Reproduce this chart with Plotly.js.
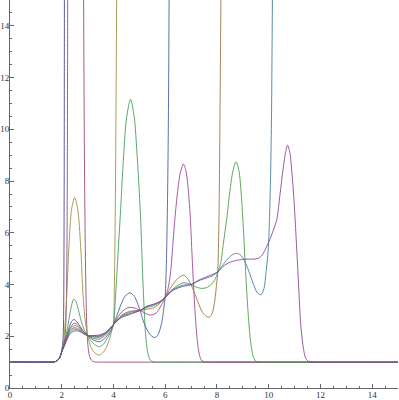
<!DOCTYPE html>
<html>
<head>
<meta charset="utf-8">
<script src="https://cdn.plot.ly/plotly-3.0.1.min.js"></script>
<style>html,body{margin:0;padding:0;background:#fff}#chart{width:399px;height:400px}</style>
</head>
<body>
<div id="chart"></div>
<script>
// Curve 1 (blue-violet) - diverges near x=2.1
const x1 = [0, 1.5, 1.7, 1.8, 1.9, 1.97, 2.0, 2.04, 2.06, 2.075, 2.085, 2.095, 2.1, 2.105, 2.12];
const y1 = [1, 1, 1.01, 1.04, 1.13, 1.3, 1.45, 1.75, 2.1, 3, 4.8, 8, 12, 17, 40];
// Curve 2 (pink) - huge peak 2.2..2.85, then back to 1
const x2 = [0, 1.5, 1.7, 1.8, 1.9, 2.0, 2.1, 2.15, 2.18, 2.2, 2.215, 2.225, 2.235, 2.26, 2.5, 2.8, 2.84, 2.86, 2.88, 2.91, 2.94, 2.97, 3.0, 3.05, 3.12, 3.2, 3.3, 3.5, 3.8, 15];
const y2 = [1, 1, 1.01, 1.04, 1.13, 1.4, 1.78, 2.3, 3.3, 5, 8, 12, 17, 40, 80, 40, 17, 12, 8.5, 5.5, 3.5, 2.4, 1.8, 1.35, 1.12, 1.03, 1.005, 1, 1, 1];
// Curve 3 (olive)
const x3 = [0, 1.5, 1.7, 1.8, 1.9, 2.0, 2.1, 2.19, 2.28, 2.38, 2.5, 2.62, 2.73, 2.83, 2.92, 3.02, 3.12, 3.25, 3.45, 3.6, 3.74, 3.85, 3.93, 4.0, 4.03, 4.06, 4.09, 4.12, 4.15];
const y3 = [1, 1, 1.01, 1.04, 1.13, 1.4, 2.1, 3.5, 5.5, 6.9, 7.37, 6.9, 5.5, 3.5, 2.5, 1.95, 1.6, 1.38, 1.27, 1.38, 1.6, 1.9, 2.2, 2.5, 3.6, 5.8, 9.5, 14.5, 25];
// Curve 4 (green)
const x4 = [0, 1.5, 1.7, 1.8, 1.9, 2.0, 2.1, 2.2, 2.3, 2.4, 2.47, 2.55, 2.65, 2.75, 2.87, 3.02, 3.15, 3.3, 3.45, 3.6, 3.75, 3.88, 4.0, 4.06, 4.12, 4.2, 4.27, 4.37, 4.5, 4.66, 4.8, 4.92, 5.04, 5.14, 5.24, 5.32, 5.42, 5.55, 5.8, 6.1, 15];
const y4 = [1, 1, 1.01, 1.04, 1.13, 1.4, 1.75, 2.2, 2.78, 3.28, 3.44, 3.35, 3.0, 2.6, 2.25, 2.0, 1.8, 1.66, 1.6, 1.68, 1.9, 2.15, 2.45, 3.2, 4.2, 5.6, 6.77, 8.6, 10.4, 11.16, 10.5, 8.9, 6.77, 4.1, 2.1, 1.4, 1.08, 1.005, 1.0, 1.0, 1.0];
// Curve 5 (blue)
const x5 = [0, 1.5, 1.7, 1.8, 1.9, 2.0, 2.1, 2.2, 2.3, 2.4, 2.47, 2.55, 2.7, 2.85, 3.02, 3.2, 3.45, 3.65, 3.85, 4.0, 4.15, 4.3, 4.45, 4.64, 4.8, 4.92, 5.03, 5.15, 5.3, 5.45, 5.6, 5.72, 5.86, 5.95, 6.0, 6.05, 6.09, 6.12, 6.15, 6.18];
const y5 = [1, 1, 1.01, 1.04, 1.13, 1.4, 1.72, 2.05, 2.38, 2.6, 2.65, 2.6, 2.4, 2.18, 2.02, 1.87, 1.79, 1.9, 2.15, 2.45, 2.85, 3.25, 3.55, 3.68, 3.55, 3.3, 3.0, 2.6, 2.25, 2.03, 1.95, 2.05, 2.5, 3.1, 3.55, 5.0, 7.3, 10, 15, 28];
// Curve 6 (magenta)
const x6 = [0, 1.5, 1.7, 1.8, 1.9, 2.0, 2.1, 2.2, 2.3, 2.47, 2.6, 2.8, 3.02, 3.2, 3.45, 3.7, 3.85, 4.0, 4.2, 4.45, 4.65, 4.85, 5.03, 5.25, 5.45, 5.65, 5.85, 6.0, 6.1, 6.2, 6.3, 6.38, 6.48, 6.58, 6.7, 6.8, 6.88, 6.96, 7.04, 7.1, 7.17, 7.25, 7.33, 7.42, 7.55, 7.8, 8.1, 15];
const y6 = [1, 1, 1.01, 1.04, 1.13, 1.4, 1.7, 2.0, 2.28, 2.5, 2.45, 2.22, 2.02, 1.93, 1.89, 2.05, 2.25, 2.45, 2.8, 3.05, 3.12, 3.08, 3.0, 2.88, 2.82, 2.9, 3.2, 3.5, 3.8, 4.4, 5.6, 6.6, 7.6, 8.3, 8.66, 8.4, 7.8, 6.77, 5.1, 3.9, 2.7, 1.75, 1.25, 1.05, 1.005, 1.0, 1.0, 1.0];
// Curve 7 (brown)
const x7 = [0, 1.5, 1.7, 1.8, 1.9, 2.0, 2.1, 2.2, 2.3, 2.47, 2.65, 2.85, 3.02, 3.25, 3.45, 3.7, 4.0, 4.3, 4.65, 5.03, 5.3, 5.55, 5.8, 6.0, 6.2, 6.45, 6.7, 6.85, 7.0, 7.2, 7.4, 7.55, 7.7, 7.82, 7.92, 7.98, 8.03, 8.07, 8.1, 8.13, 8.16, 8.2];
const y7 = [1, 1, 1.01, 1.04, 1.13, 1.4, 1.68, 1.96, 2.22, 2.41, 2.35, 2.15, 2.02, 1.97, 1.96, 2.1, 2.45, 2.8, 2.97, 3.0, 3.05, 3.1, 3.28, 3.5, 3.85, 4.2, 4.36, 4.25, 4.0, 3.5, 3.0, 2.8, 2.73, 2.9, 3.4, 3.95, 4.5, 6, 8.5, 12, 16, 28];
// Curve 8 (green 2)
const x8 = [0, 1.5, 1.7, 1.8, 1.9, 2.0, 2.1, 2.2, 2.3, 2.47, 2.65, 2.85, 3.02, 3.25, 3.45, 3.7, 4.0, 4.3, 4.65, 5.03, 5.3, 5.55, 5.8, 6.0, 6.3, 6.7, 7.0, 7.2, 7.4, 7.6, 7.8, 7.95, 8.04, 8.15, 8.25, 8.38, 8.5, 8.62, 8.74, 8.85, 8.94, 9.02, 9.12, 9.21, 9.3, 9.4, 9.5, 9.6, 9.85, 10.2, 15];
const y8 = [1, 1, 1.01, 1.04, 1.13, 1.4, 1.66, 1.93, 2.18, 2.33, 2.28, 2.12, 2.02, 2.0, 1.99, 2.12, 2.45, 2.77, 2.93, 3.0, 3.12, 3.18, 3.32, 3.5, 3.83, 4.07, 4.0, 3.9, 3.85, 3.88, 4.02, 4.25, 4.5, 4.85, 5.6, 6.55, 7.6, 8.4, 8.75, 8.4, 7.5, 6.2, 4.3, 2.85, 1.8, 1.22, 1.04, 1.005, 1.0, 1.0, 1.0];
// Curve 9 (light blue)
const x9 = [0, 1.5, 1.7, 1.8, 1.9, 2.0, 2.1, 2.2, 2.3, 2.47, 2.65, 2.85, 3.02, 3.25, 3.45, 3.7, 4.0, 4.3, 4.65, 5.03, 5.3, 5.55, 5.8, 6.0, 6.3, 6.7, 7.0, 7.3, 7.6, 7.85, 8.04, 8.3, 8.55, 8.76, 8.9, 9.02, 9.2, 9.4, 9.55, 9.7, 9.82, 9.9, 9.98, 10.04, 10.08, 10.11, 10.13, 10.15, 10.18];
const y9 = [1, 1, 1.01, 1.04, 1.13, 1.4, 1.64, 1.9, 2.12, 2.27, 2.24, 2.1, 2.02, 2.02, 2.02, 2.13, 2.45, 2.75, 2.88, 3.0, 3.15, 3.22, 3.33, 3.5, 3.8, 3.98, 4.0, 4.15, 4.25, 4.35, 4.5, 4.85, 5.12, 5.21, 5.15, 5.0, 4.6, 4.05, 3.7, 3.6, 3.85, 4.5, 5.3, 6.8, 8.5, 10.5, 13, 16, 25];
// Curve 10 (purple)
const x10 = [0, 1.5, 1.7, 1.8, 1.9, 2.0, 2.1, 2.2, 2.3, 2.47, 2.65, 2.85, 3.02, 3.25, 3.45, 3.7, 4.0, 4.3, 4.65, 5.03, 5.3, 5.55, 5.8, 6.0, 6.3, 6.7, 7.0, 7.3, 7.6, 7.85, 8.04, 8.3, 8.55, 8.75, 9.02, 9.3, 9.55, 9.66, 9.8, 9.92, 10.05, 10.18, 10.31, 10.44, 10.55, 10.65, 10.73, 10.82, 10.9, 10.97, 11.04, 11.11, 11.18, 11.24, 11.32, 11.43, 11.55, 11.65, 11.9, 12.2, 15];
const y10 = [1, 1, 1.01, 1.04, 1.13, 1.4, 1.62, 1.86, 2.06, 2.2, 2.2, 2.1, 2.02, 2.03, 2.05, 2.15, 2.45, 2.72, 2.85, 3.0, 3.17, 3.24, 3.35, 3.5, 3.78, 3.93, 4.0, 4.17, 4.3, 4.4, 4.5, 4.75, 4.88, 4.93, 4.98, 4.98, 5.0, 5.05, 5.22, 5.46, 5.75, 6.1, 6.5, 7.5, 8.4, 9.1, 9.38, 9.1, 8.3, 7.4, 6.2, 4.9, 3.5, 2.45, 1.7, 1.15, 1.02, 1.003, 1.0, 1.0, 1.0];

const curveX = [x1, x2, x3, x4, x5, x6, x7, x8, x9, x10];
const curveY = [y1, y2, y3, y4, y5, y6, y7, y8, y9, y10];
const colors = ['rgb(63,61,153)', 'rgb(153,61,113)', 'rgb(153,140,61)', 'rgb(61,153,86)', 'rgb(61,90,153)',
                'rgb(153,61,144)', 'rgb(153,109,61)', 'rgb(67,153,61)', 'rgb(61,121,153)', 'rgb(132,61,153)'];
const xTicks = [0, 2, 4, 6, 8, 10, 12, 14];
const yTicks = [0, 2, 4, 6, 8, 10, 12, 14];

const traces = curveX.map((xs, i) => ({
  type: 'scatter', mode: 'lines', x: xs, y: curveY[i],
  line: {color: colors[i], width: 1, shape: 'spline', smoothing: 0.8},
  opacity: 0.85,
  hoverinfo: 'skip', showlegend: false
}));

const axisCommon = {
  showgrid: false, zeroline: false, showline: true, linecolor: '#666', linewidth: 1,
  ticks: 'inside', ticklen: 4, tickwidth: 1, tickcolor: '#666',
  tickmode: 'array',
  tickfont: {family: 'Liberation Serif, Times New Roman, serif', size: 9, color: '#333'},
  minor: {dtick: 0.5, tick0: 0, ticks: 'inside', ticklen: 2, tickcolor: '#666', showgrid: false},
  fixedrange: true
};

const layout = {
  width: 399, height: 400,
  margin: {l: 10, r: 1, t: 0, b: 12, pad: 0},
  paper_bgcolor: '#fff', plot_bgcolor: '#fff',
  xaxis: Object.assign({}, axisCommon, {range: [0, 15], tickvals: xTicks, ticktext: xTicks.map(String), ticklabelstandoff: -2}),
  yaxis: Object.assign({}, axisCommon, {range: [0, 15], tickvals: yTicks, ticktext: yTicks.map(String), ticklabelstandoff: -2}),
  showlegend: false
};

Plotly.newPlot('chart', traces, layout, {staticPlot: true, displayModeBar: false});
</script>
</body>
</html>
